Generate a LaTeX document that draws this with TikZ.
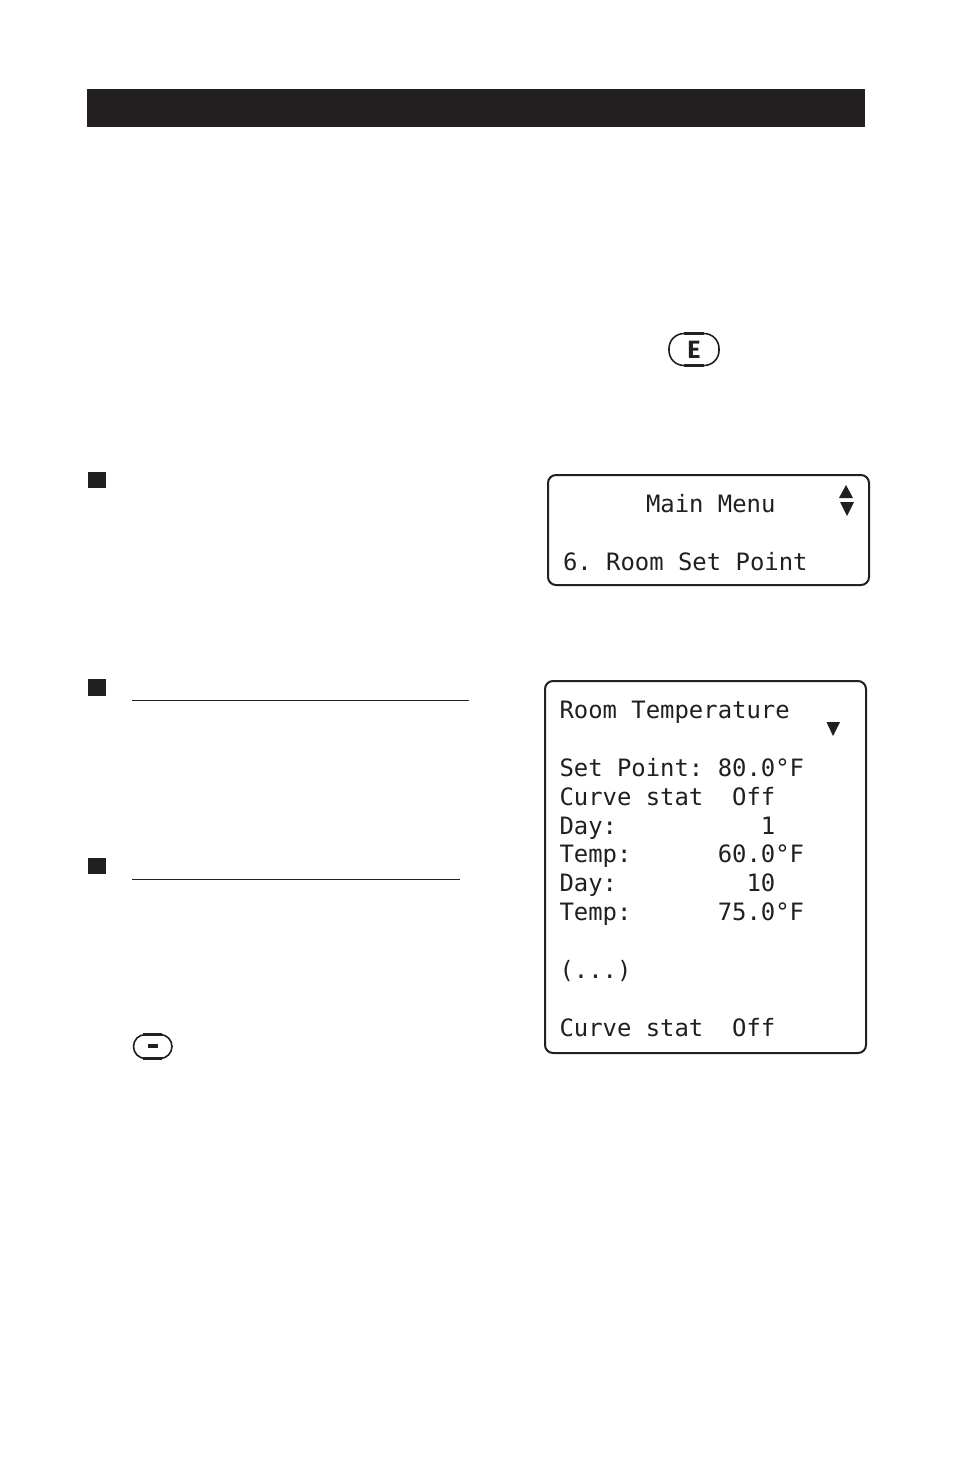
\documentclass[tikz,border=0pt]{standalone}
\usepackage{fontspec}
\setmainfont{Fira Sans}
\setmonofont{DejaVu Sans Mono}
\definecolor{ink}{HTML}{231F20}
\tikzset{
  lcd/.style={anchor=base west,inner sep=0pt,outer sep=0pt,text=ink,font=\ttfamily\fontsize{23.9}{24}\selectfont},
  screen/.style={draw=ink,line width=2pt,rounded corners=8pt},
  bullet/.style={fill=ink,draw=none},
  rulel/.style={draw=ink,line width=1pt},
  tri/.style={fill=ink,draw=none},
  keycap/.style={draw=ink,line width=1.6pt,rounded corners=12pt,fill=white},
  keybar/.style={draw=ink,line width=2.8pt,line cap=butt}
}
\begin{document}
\begin{tikzpicture}[x=1pt,y=-1pt]
\useasboundingbox (0,0) rectangle (954,1475);
\fill[white] (0,0) rectangle (954,1475);
% header
\fill[ink] (87,89) rectangle (865,127);
% E key
\draw[keycap,rounded corners=15pt] (669,333.5) rectangle (719,365.5);
\draw[keybar] (684,333.5) -- (704,333.5);
\draw[keybar] (684,365.5) -- (704,365.5);
\node[inner sep=0pt,anchor=base,text=ink,font=\bfseries\fontsize{25}{25}\selectfont] (ekey) at (694,358.5) {E};
% bullets
\fill[bullet] (88,472) rectangle (106,488);
\fill[bullet] (88,679) rectangle (106,696);
\fill[bullet] (88,858) rectangle (106,874);
\draw[rulel] (132,700.5) -- (469,700.5);
\draw[rulel] (132,879.5) -- (460,879.5);
% minus key
\draw[keycap] (133.5,1034.5) rectangle (172,1058.5);
\draw[keybar] (143,1034.5) -- (162,1034.5);
\draw[keybar] (143,1058.5) -- (162,1058.5);
\fill[ink] (148,1044) rectangle (158,1048);
% main menu screen
\draw[screen] (548,475) rectangle (869,585);
\node[lcd] (m1) at (646,512) {Main Menu};
\node[lcd] (m2) at (563,570) {6. Room Set Point};
\fill[tri] (846,485) -- (853,498) -- (839,498) -- cycle;
\fill[tri] (840,502) -- (854,502) -- (847,516) -- cycle;
% room temp screen
\draw[screen] (545,681) rectangle (866,1053);
\node[lcd] (r1) at (559.5,718) {Room Temperature};
\fill[tri] (826.5,722) -- (840,722) -- (833,736) -- cycle;
\node[lcd] (r2) at (559.5,776) {Set Point:~80.0°F};
\node[lcd] (r3) at (559.5,805) {Curve stat~~Off};
\node[lcd] (r4) at (559.5,834) {Day:~~~~~~~~~~1};
\node[lcd] (r5) at (559.5,862) {Temp:~~~~~~60.0°F};
\node[lcd] (r6) at (559.5,891) {Day:~~~~~~~~~10};
\node[lcd] (r7) at (559.5,920) {Temp:~~~~~~75.0°F};
\node[lcd] (r8) at (559.5,978) {(...)};
\node[lcd] (r9) at (559.5,1036) {Curve stat~~Off};
\end{tikzpicture}
\end{document}
